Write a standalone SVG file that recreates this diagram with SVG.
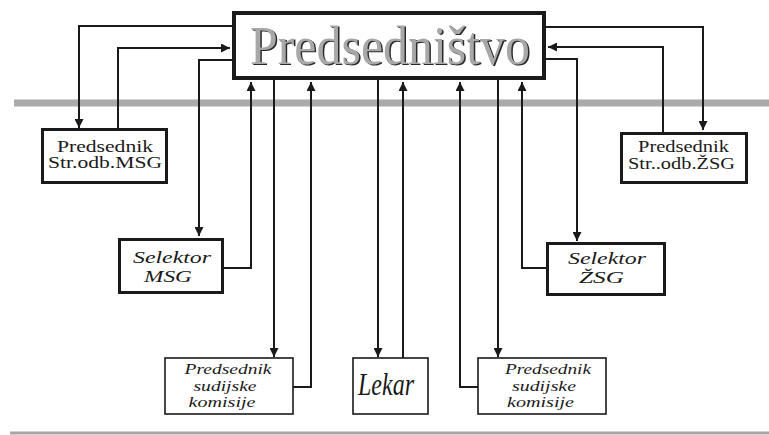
<svg xmlns="http://www.w3.org/2000/svg" width="769" height="435" viewBox="0 0 769 435">
  <style>
    .box { fill: #fff; stroke: #1a1a1a; }
    .thick { stroke-width: 4; }
    .mid { stroke-width: 3; }
    .thin { stroke-width: 1.6; }
    .wire { fill: none; stroke: #1a1a1a; stroke-width: 2; }
    text { font-family: 'Liberation Serif', 'Times New Roman', serif; }
    .lbl { fill: #1a1a1a; text-anchor: middle; }
    .it { font-style: italic; }
    .title { font-size: 54px; text-anchor: middle; }
  </style>
  <defs>
    <marker id="arr" viewBox="0 0 10 10" refX="10" refY="5" markerWidth="4.5" markerHeight="4.5" orient="auto" markerUnits="strokeWidth">
      <path d="M0,0 L10,5 L0,10 z" fill="#1a1a1a"/>
    </marker>
  </defs>
  <rect width="769" height="435" fill="#fff"/>

  <!-- horizontal rules -->
  <line x1="14" y1="103" x2="769" y2="103" stroke="#aaaaaa" stroke-width="7"/>
  <line x1="10" y1="433" x2="769" y2="433" stroke="#a6a6a6" stroke-width="3"/>

  <!-- connectors -->
  <g id="connectors" class="wire">
    <polyline points="232,26 79,26 79,128" marker-end="url(#arr)"/>
    <polyline points="118,128 118,48 230,48" marker-end="url(#arr)"/>
    <polyline points="232,60 199,60 199,236" marker-end="url(#arr)"/>
    <polyline points="224,268 251,268 251,82" marker-end="url(#arr)"/>
    <polyline points="274,80 274,357" marker-end="url(#arr)"/>
    <polyline points="293,387 311,387 311,82" marker-end="url(#arr)"/>
    <polyline points="378,80 378,357" marker-end="url(#arr)"/>
    <polyline points="403,358 403,82" marker-end="url(#arr)"/>
    <polyline points="478,387 460,387 460,82" marker-end="url(#arr)"/>
    <polyline points="498,80 498,357" marker-end="url(#arr)"/>
    <polyline points="546,268 522,268 522,82" marker-end="url(#arr)"/>
    <polyline points="546,59 577,59 577,241" marker-end="url(#arr)"/>
    <polyline points="546,27 703,27 703,130" marker-end="url(#arr)"/>
    <polyline points="663,132 663,47 548,47" marker-end="url(#arr)"/>
  </g>

  <!-- main board: grey lettering over a dark drop shadow -->
  <g id="predsednistvo">
    <rect class="box thick" x="234" y="13" width="310" height="65"/>
    <text class="title" x="391.5" y="65" textLength="280" lengthAdjust="spacingAndGlyphs" fill="#2a2a2a">Predsedništvo</text>
    <text class="title" x="390" y="63.5" textLength="280" lengthAdjust="spacingAndGlyphs" fill="#a8a8a8">Predsedništvo</text>
  </g>

  <g id="predsednik-msg">
    <rect class="box mid" x="42.5" y="129.5" width="124" height="53"/>
    <text class="lbl" x="105" y="151.5" font-size="16" textLength="96" lengthAdjust="spacingAndGlyphs">Predsednik</text>
    <text class="lbl" x="105" y="168" font-size="16" textLength="114" lengthAdjust="spacingAndGlyphs">Str.odb.MSG</text>
  </g>

  <g id="predsednik-zsg">
    <rect class="box mid" x="621.5" y="133.5" width="125" height="49"/>
    <text class="lbl" x="683.5" y="152" font-size="16" textLength="91" lengthAdjust="spacingAndGlyphs">Predsednik</text>
    <text class="lbl" x="681.5" y="169" font-size="16" textLength="107" lengthAdjust="spacingAndGlyphs">Str..odb.ŽSG</text>
  </g>

  <g id="selektor-msg">
    <rect class="box mid" x="119.5" y="239.5" width="103" height="53"/>
    <text class="lbl it" x="172" y="263" font-size="17" textLength="78" lengthAdjust="spacingAndGlyphs">Selektor</text>
    <text class="lbl it" x="168" y="281.5" font-size="17" textLength="48" lengthAdjust="spacingAndGlyphs">MSG</text>
  </g>

  <g id="selektor-zsg">
    <rect class="box mid" x="547.5" y="243.5" width="117" height="51"/>
    <text class="lbl it" x="607" y="264" font-size="17" textLength="78" lengthAdjust="spacingAndGlyphs">Selektor</text>
    <text class="lbl it" x="601.5" y="283" font-size="17" textLength="45" lengthAdjust="spacingAndGlyphs">ŽSG</text>
  </g>

  <g id="komisija-levo">
    <rect class="box thin" x="165" y="358" width="128" height="56"/>
    <text class="lbl it" x="228" y="374" font-size="14.5" textLength="87" lengthAdjust="spacingAndGlyphs">Predsednik</text>
    <text class="lbl it" x="225" y="391" font-size="14.5" textLength="63" lengthAdjust="spacingAndGlyphs">sudijske</text>
    <text class="lbl it" x="222" y="407" font-size="14.5" textLength="67" lengthAdjust="spacingAndGlyphs">komisije</text>
  </g>

  <g id="lekar">
    <rect class="box thin" x="353" y="358" width="75" height="56"/>
    <text class="lbl it" x="386" y="395" font-size="32" textLength="56" lengthAdjust="spacingAndGlyphs">Lekar</text>
  </g>

  <g id="komisija-desno">
    <rect class="box thin" x="478" y="358" width="128" height="56"/>
    <text class="lbl it" x="548" y="374" font-size="14.5" textLength="86" lengthAdjust="spacingAndGlyphs">Predsednik</text>
    <text class="lbl it" x="544" y="391" font-size="14.5" textLength="64" lengthAdjust="spacingAndGlyphs">sudijske</text>
    <text class="lbl it" x="540.5" y="407" font-size="14.5" textLength="67" lengthAdjust="spacingAndGlyphs">komisije</text>
  </g>
</svg>
